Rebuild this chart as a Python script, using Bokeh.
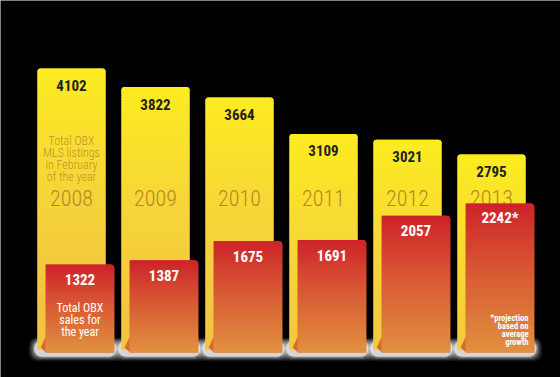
import math
import numpy as np
from bokeh.plotting import figure
from bokeh.models import Range1d, ColumnDataSource
from bokeh.core.properties import value
from bokeh.embed import file_html
from bokeh.resources import INLINE

# ---------------- data ----------------
years = ["2008", "2009", "2010", "2011", "2012", "2013"]
listings = [4102, 3822, 3664, 3109, 3021, 2795]
sales = [1322, 1387, 1675, 1691, 2057, 2242]
listing_labels = ["4102", "3822", "3664", "3109", "3021", "2795"]
sales_labels = ["1322", "1387", "1675", "1691", "2057", "2242*"]
listing_note = ["Total OBX", "MLS listings", "in February", "of the year"]
sales_note = ["Total OBX", "sales for", "the year"]
projection_note = ["*projection", "based on", "average", "growth"]

# ---------------- layout (pixels) ----------------
W, H = 560, 377
PX_PER_CAT = 84.0
CENTER0_PX = 71.0
BAR_W_PX = 68.0
RED_W_PX = 68.5
RED_SHIFT_PX = 8.5
SALES_BASE_PX, SALES_SCALE = 352.0, 0.0665
LIST_BASE_PX, LIST_SCALE = 338.0, 0.0658
YELLOW_BOTTOM_PX = 349.0

FONT = "Roboto Condensed"
FONT_LIGHT = "Roboto Condensed Light, Roboto Condensed"


def xd(px):
    return (px - CENTER0_PX) / PX_PER_CAT


def ys(py):
    return (SALES_BASE_PX - py) / SALES_SCALE


def yl(py):
    return (LIST_BASE_PX - py) / LIST_SCALE


def hex2rgb(h):
    h = h.lstrip("#")
    return [int(h[i:i + 2], 16) for i in (0, 2, 4)]


def grad(stops, t):
    t = max(0.0, min(1.0, t))
    for (p0, c0), (p1, c1) in zip(stops[:-1], stops[1:]):
        if t <= p1:
            f = 0 if p1 == p0 else (t - p0) / (p1 - p0)
            a, b = hex2rgb(c0), hex2rgb(c1)
            return "#%02x%02x%02x" % tuple(int(round(a[k] + (b[k] - a[k]) * f)) for k in range(3))
    return stops[-1][1]


YELLOW_STOPS = [(0.0, "#fcec1f"), (0.45, "#f6d836"), (1.0, "#f2c540")]
RED_STOPS = [(0.0, "#cd2329"), (0.45, "#d85833"), (1.0, "#e1913f")]

n = len(years)
idx = np.arange(n, dtype=float)
bw = BAR_W_PX / PX_PER_CAT
rw = RED_W_PX / PX_PER_CAT
rs = RED_SHIFT_PX / PX_PER_CAT
px = 1.0 / PX_PER_CAT

p = figure(width=W, height=H, output_backend="svg", toolbar_location=None,
           x_range=Range1d(xd(0), xd(W)), y_range=Range1d(ys(H), ys(0)),
           x_axis_type=None, y_axis_type=None, min_border=0,
           background_fill_color="black", border_fill_color="black")
p.extra_y_ranges = {"listings": Range1d(yl(H), yl(0))}
p.outline_line_color = None
p.grid.visible = False

# ---------------- glow beneath each pair ----------------
for pad, alpha in [(6, 0.08), (4.5, 0.12), (3, 0.18), (1.5, 0.3), (0.3, 0.65)]:
    gl = idx - bw / 2 - (3 + pad) * px
    gr = idx + rs + rw / 2 + (2 + pad) * px
    p.quad(left=gl, right=gr, top=[ys(340 - pad * 0.5)] * n, bottom=[ys(356 + pad * 0.8)] * n,
           fill_color="white", fill_alpha=alpha, line_color=None, border_radius=8)

# ---------------- listing bars (yellow gradient) ----------------
STEP = 3.0
ybase = yl(YELLOW_BOTTOM_PX)
p.quad(left=idx - bw / 2, right=idx + bw / 2, top=listings, bottom=[ybase] * n,
       fill_color="#f5d437", line_color=None, y_range_name="listings", border_radius=(3, 3, 0, 0))
top_src = dict(left=[], right=[], top=[], bottom=[], color=[])
body_src = dict(left=[], right=[], top=[], bottom=[], color=[])
for i, v in enumerate(listings):
    hpx = v * LIST_SCALE + (YELLOW_BOTTOM_PX - LIST_BASE_PX)
    ns = int(math.ceil(hpx / STEP))
    dv = STEP / LIST_SCALE
    for k in range(ns):
        t = v - k * dv
        b = max(ybase, v - (k + 1) * dv - 1.0 / LIST_SCALE)
        c = grad(YELLOW_STOPS, (k * STEP + STEP / 2) / 230.0)
        d = top_src if k == 0 else body_src
        d["left"].append(i - bw / 2)
        d["right"].append(i + bw / 2)
        d["top"].append(t)
        d["bottom"].append(b)
        d["color"].append(c)
p.quad(source=ColumnDataSource(body_src), left="left", right="right", top="top", bottom="bottom",
       fill_color="color", line_color=None, y_range_name="listings")
p.quad(source=ColumnDataSource(top_src), left="left", right="right", top="top", bottom="bottom",
       fill_color="color", line_color=None, y_range_name="listings", border_radius=(3, 3, 0, 0))

# curl shadow at the yellow bar's bottom, beside the sales bar
curl_xs = [[i + rs - rw / 2 - 5 * px, i + rs - rw / 2, i + rs - rw / 2] for i in idx]
curl_ys = [[ys(347), ys(336), ys(352)] for _ in idx]
p.patches(xs=curl_xs, ys=curl_ys, fill_color="#d8692f", line_color=None)

# texts on yellow bars
p.text(x=idx, y=np.array(listings) - 17 / LIST_SCALE, text=listing_labels, y_range_name="listings",
       text_font=value(FONT), text_font_style="bold", text_font_size="15px",
       text_color="#231f20", text_align="center", text_baseline="middle")
p.text(x=idx, y=[ys(197)] * n, text=years,
       text_font=value(FONT_LIGHT), text_font_size="22px", text_color="#b8862a",
       text_align="center", text_baseline="middle")
p.text(x=[0.0] * len(listing_note), y=[ys(py) for py in (140, 152, 164, 176)], text=listing_note,
       text_font=value(FONT_LIGHT), text_font_size="12px", text_color="#c0922f",
       text_align="center", text_baseline="middle")

# ---------------- sales bars (red gradient) ----------------
p.quad(left=idx + rs - rw / 2, right=idx + rs + rw / 2, top=sales, bottom=[0] * n,
       fill_color="#d85c35", line_color=None, border_radius=(0, 4, 0, 0))
rtop = dict(left=[], right=[], top=[], bottom=[], color=[])
rbody = dict(left=[], right=[], top=[], bottom=[], color=[])
for i, v in enumerate(sales):
    hpx = v * SALES_SCALE
    ns = int(math.ceil(hpx / STEP))
    dv = STEP / SALES_SCALE
    for k in range(ns):
        t = v - k * dv
        b = max(0.0, v - (k + 1) * dv - 1.0 / SALES_SCALE)
        c = grad(RED_STOPS, (k * STEP + STEP / 2) / hpx)
        d = rtop if k == 0 else rbody
        d["left"].append(i + rs - rw / 2)
        d["right"].append(i + rs + rw / 2)
        d["top"].append(t)
        d["bottom"].append(b)
        d["color"].append(c)
p.quad(source=ColumnDataSource(rbody), left="left", right="right", top="top", bottom="bottom",
       fill_color="color", line_color=None)
p.quad(source=ColumnDataSource(rtop), left="left", right="right", top="top", bottom="bottom",
       fill_color="color", line_color=None, border_radius=(0, 4, 0, 0))

p.text(x=idx + rs, y=np.array(sales) - 15 / SALES_SCALE, text=sales_labels,
       text_font=value(FONT), text_font_style="bold", text_font_size="15px",
       text_color="white", text_align="center", text_baseline="middle")
p.text(x=[rs] * len(sales_note), y=[ys(py) for py in (307, 319, 331)], text=sales_note,
       text_font=value(FONT), text_font_size="12px", text_color="white",
       text_align="center", text_baseline="middle")
p.text(x=[xd(528)] * len(projection_note), y=[ys(py) for py in (317, 325, 333, 341)],
       text=projection_note, text_font=value(FONT), text_font_style="bold", text_font_size="8.5px",
       text_color="white", text_align="right", text_baseline="middle")

open("out.html", "w").write(file_html(p, INLINE))
